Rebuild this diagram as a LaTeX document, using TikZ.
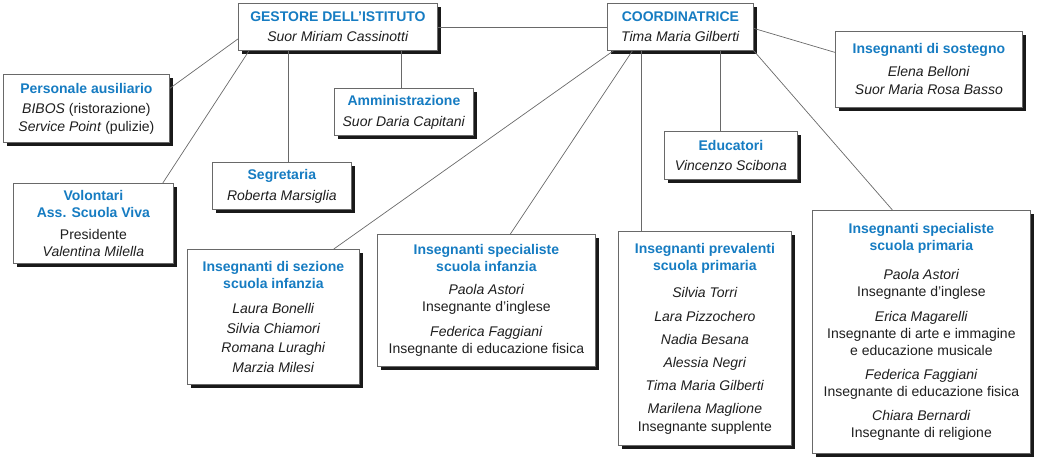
\documentclass[tikz,border=0pt]{standalone}
\usepackage{fontspec}
\setmainfont{Liberation Sans}
\usetikzlibrary{calc,shadows}
\definecolor{titleblue}{RGB}{22,124,194}
\definecolor{linegray}{RGB}{105,105,105}
\tikzset{
  orgbox/.style={draw=linegray,fill=white,line width=.8pt,align=center,
    anchor=north west,inner sep=2pt,font=\fontsize{14}{17}\selectfont,
    text=black!88,
    drop shadow={shadow xshift=3.5pt,shadow yshift=-3.5pt,
      fill=black!90,opacity=1}},
  link/.style={draw=linegray,line width=.7pt}
}
\newcommand{\boxtitle}[1]{{\bfseries\color{titleblue}#1}}

\begin{document}
\begin{tikzpicture}[x=1pt,y=-1pt]
\useasboundingbox (0,0) rectangle (1045,460);
% vertici
\node[orgbox,minimum width=199pt,minimum height=47pt] (gest) at (238,3)
  {\boxtitle{GESTORE DELL’ISTITUTO}\\[3pt]\textit{Suor Miriam Cassinotti}};
\node[orgbox,minimum width=146pt,minimum height=47pt] (coord) at (607,3)
  {\boxtitle{COORDINATRICE}\\[3pt]\textit{Tima Maria Gilberti}};
% sotto il gestore
\node[orgbox,minimum width=166pt,minimum height=68pt] (pers) at (3,74)
  {\boxtitle{Personale ausiliario}\\[3pt]\textit{BIBOS} (ristorazione)\\[1pt]
   \textit{Service Point} (pulizie)};
\node[orgbox,minimum width=139pt,minimum height=47pt] (amm) at (334,88)
  {\boxtitle{Amministrazione}\\[4pt]\textit{Suor Daria Capitani}};
\node[orgbox,minimum width=139pt,minimum height=47pt] (segr) at (212,162)
  {\boxtitle{Segretaria}\\[4pt]\textit{Roberta Marsiglia}};
\node[orgbox,minimum width=160pt,minimum height=80pt] (vol) at (13,183)
  {\boxtitle{Volontari}\\\boxtitle{Ass. Scuola Viva}\\[5pt]Presidente\\
   \textit{Valentina Milella}};
% sotto la coordinatrice
\node[orgbox,minimum width=187pt,minimum height=76pt] (sost) at (835,31)
  {\boxtitle{Insegnanti di sostegno}\\[6pt]\textit{Elena Belloni}\\[1pt]
   \textit{Suor Maria Rosa Basso}};
\node[orgbox,minimum width=133pt,minimum height=48pt] (edu) at (664,131)
  {\boxtitle{Educatori}\\[3pt]\textit{Vincenzo Scibona}};
\node[orgbox,minimum width=172pt,minimum height=135pt] (sez) at (187,249)
  {\boxtitle{Insegnanti di sezione}\\\boxtitle{scuola infanzia}\\[8pt]
   \textit{Laura Bonelli}\\[2.5pt]\textit{Silvia Chiamori}\\[2.5pt]
   \textit{Romana Luraghi}\\[2.5pt]\textit{Marzia Milesi}};
\node[orgbox,minimum width=218pt,minimum height=132pt] (spinf) at (377,234)
  {\boxtitle{Insegnanti specialiste}\\\boxtitle{scuola infanzia}\\[6pt]
   \textit{Paola Astori}\\Insegnante d’inglese\\[8pt]
   \textit{Federica Faggiani}\\Insegnante di educazione fisica};
\node[orgbox,minimum width=173pt,minimum height=214pt] (prev) at (618,231)
  {\boxtitle{Insegnanti prevalenti}\\\boxtitle{scuola primaria}\\[10pt]
   \textit{Silvia Torri}\\[7pt]\textit{Lara Pizzochero}\\[6pt]
   \textit{Nadia Besana}\\[6pt]\textit{Alessia Negri}\\[6pt]
   \textit{Tima Maria Gilberti}\\[6pt]\textit{Marilena Maglione}\\[1pt]
   Insegnante supplente};
\node[orgbox,minimum width=218pt,minimum height=243pt] (sprim) at (812,210)
  {\boxtitle{Insegnanti specialiste}\\\boxtitle{scuola primaria}\\[12pt]
   \textit{Paola Astori}\\Insegnante d’inglese\\[8pt]
   \textit{Erica Magarelli}\\Insegnante di arte e immagine\\
   e educazione musicale\\[7pt]
   \textit{Federica Faggiani}\\Insegnante di educazione fisica\\[7pt]
   \textit{Chiara Bernardi}\\Insegnante di religione};
% collegamenti
\draw[link] (gest.east) -- (coord.west);
\draw[link] ([yshift=-12pt]gest.west) -- ([yshift=20pt]pers.east);
\draw[link] ([xshift=11pt]gest.south west) -- ([xshift=-11pt]vol.north east);
\draw[link] ([xshift=-50pt]gest.south) -- ([xshift=-50pt]gest.south |- segr.north);
\draw[link] ([xshift=-3pt]amm.north) -- ([xshift=-3pt]amm.north |- gest.south);
\draw[link] ([xshift=-67pt]coord.south) -- ([xshift=-26pt]sez.north east);
\draw[link] ([xshift=-48pt]coord.south) -- ([xshift=24pt]spinf.north);
\draw[link] ([xshift=-39pt]coord.south) -- ([xshift=-39pt]coord.south |- prev.north);
\draw[link] ([xshift=40pt]coord.south) -- ([xshift=40pt]coord.south |- edu.north);
\draw[link] (coord.south east) -- ([xshift=-29pt]sprim.north);
\draw[link] ([yshift=-1.5pt]coord.east) -- ([yshift=17pt]sost.west);
\end{tikzpicture}
\end{document}
